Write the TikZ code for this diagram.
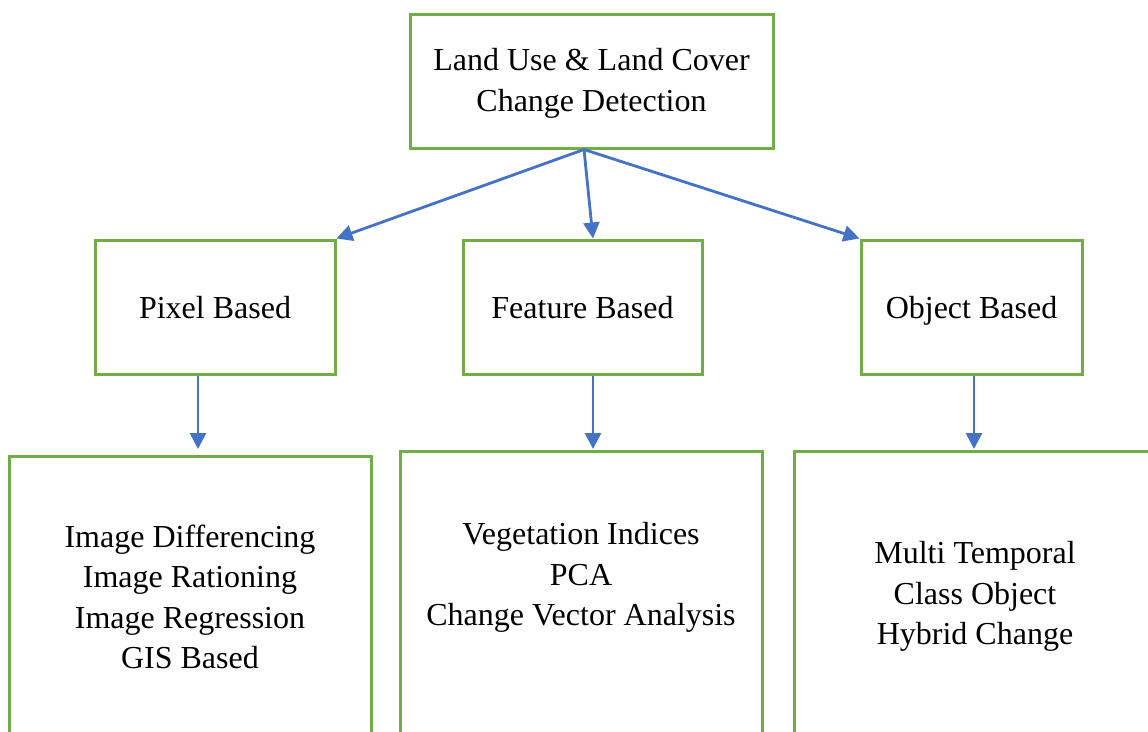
\documentclass[tikz,border=0pt]{standalone}
\usepackage{fontspec}
\setmainfont{Liberation Serif}
\usepackage{xcolor}
\usetikzlibrary{arrows.meta}
\definecolor{boxgreen}{HTML}{70AD47}
\definecolor{arrowblue}{HTML}{4472C4}

\begin{document}
\begin{tikzpicture}[x=1pt,y=-1pt,
  font=\fontsize{32}{40.5}\selectfont,
  greenbox/.style={draw=boxgreen,line width=3pt,fill=white},
  rootbox/.style={greenbox,align=center,minimum width=363pt,minimum height=134pt,text height=62pt,text depth=2pt},
  methodbox/.style={greenbox,minimum height=134pt,text height=22pt,text depth=0pt},
  listbox/.style={greenbox,align=center,anchor=north,minimum width=362pt,inner ysep=0pt,text depth=300pt},
  flow/.style={draw=arrowblue,line width=2.8pt,-{Triangle[length=16pt,width=16pt]}}]
\useasboundingbox (0,0) rectangle (1148,731);
\clip (0,0) rectangle (1148,731);

% ========= 上：总框 =========
\node[rootbox] (root) at (591.5,81) {Land Use \& Land Cover\\Change Detection};

% ========= 中：三种方法 =========
\node[methodbox,minimum width=240pt] (pixel) at (215,307) {Pixel Based};
\node[methodbox,minimum width=239pt] (feature) at (582.5,307) {Feature Based};
\node[methodbox,minimum width=221pt] (object) at (971.5,307) {Object Based};
\draw[flow] ([xshift=-7.5pt]root.south) -- (pixel.north east);
\draw[flow] ([xshift=-7.5pt]root.south) -- ([xshift=10.5pt]feature.north);
\draw[flow] ([xshift=-7.5pt]root.south) -- (object.north west);

% ========= 下：各方法的具体技术 =========
% 文字基线取最后一行，text height = 末行基线 - 框顶
\node[listbox,text height=212pt] (pixlist) at (190,455) {Image Differencing\\Image Rationing\\Image Regression\\GIS Based};
\node[listbox,text height=174pt] (featlist) at (581,450) {Vegetation Indices\\PCA\\Change Vector Analysis};
\node[listbox,text height=193pt] (objlist) at (975,450) {Multi Temporal\\Class Object\\Hybrid Change};
\draw[flow] ([xshift=-17pt]pixel.south) -- ([xshift=8pt,yshift=6pt]pixlist.north);
\draw[flow] ([xshift=10.5pt]feature.south) -- ([xshift=12pt,yshift=1pt]featlist.north);
\draw[flow] ([xshift=2.5pt]object.south) -- ([xshift=-1pt,yshift=1pt]objlist.north);
\end{tikzpicture}
\end{document}
